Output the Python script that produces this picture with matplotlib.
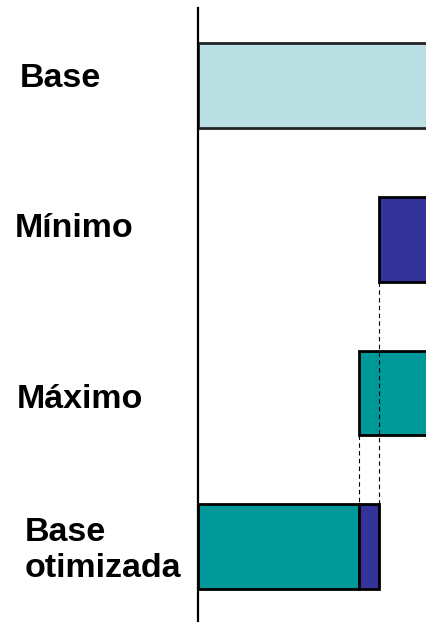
import numpy as np
import matplotlib.pyplot as plt

plt.rcParams['font.family'] = ['Liberation Sans', 'DejaVu Sans']

# data
categories = ['Base', 'Mínimo', 'Máximo', 'Base\notimizada']
base_value = 130.0          # runs past the right edge
max_start = 70.6
min_start = 79.4
bar_end = 130.0

light = '#BBE0E3'
teal = '#009999'
blue = '#333399'

W, H = 426, 622
fig = plt.figure(figsize=(W / 100, H / 100), dpi=100)
ax = fig.add_axes([198 / W, 0, 1 - 198 / W, 1 - 8 / H])

rows = np.arange(len(categories))
h = 0.553
ekw = dict(edgecolor='black', linewidth=2.0)

ax.barh(rows[0], base_value, height=h, color=light, edgecolor='#222222', linewidth=2.0)
ax.barh(rows[1], bar_end - min_start, left=min_start, height=h, color=blue, **ekw)
ax.barh(rows[2], bar_end - max_start, left=max_start, height=h, color=teal, **ekw)
ax.barh(rows[3], max_start, height=h, color=teal, **ekw)
ax.barh(rows[3], min_start - max_start, left=max_start, height=h, color=blue, **ekw)

# connector lines
ax.vlines(min_start, rows[1] + h / 2, rows[3] - h / 2, colors='black',
          linewidth=0.8, linestyles=(0, (4, 3)))
ax.vlines(max_start, rows[2] + h / 2, rows[3] - h / 2, colors='black',
          linewidth=0.8, linestyles=(0, (4, 3)))

ax.set_xlim(0, 100)
ax.set_ylim(3.49, -0.505)
for s in ['top', 'right', 'bottom']:
    ax.spines[s].set_visible(False)
ax.spines['left'].set_linewidth(1.6)
ax.set_xticks([])
ax.set_yticks([])

# row labels (left x, baseline y in pixels)
label_pos = [(20, 87), (15, 237), (17, 408), (25, 577)]
for lab, (x, y) in zip(categories, label_pos):
    fig.text(x / W, 1 - y / H, lab, fontsize=24.5, fontweight='bold',
             ha='left', va='baseline', linespacing=1.2)

fig.savefig('out.png', dpi=100)
